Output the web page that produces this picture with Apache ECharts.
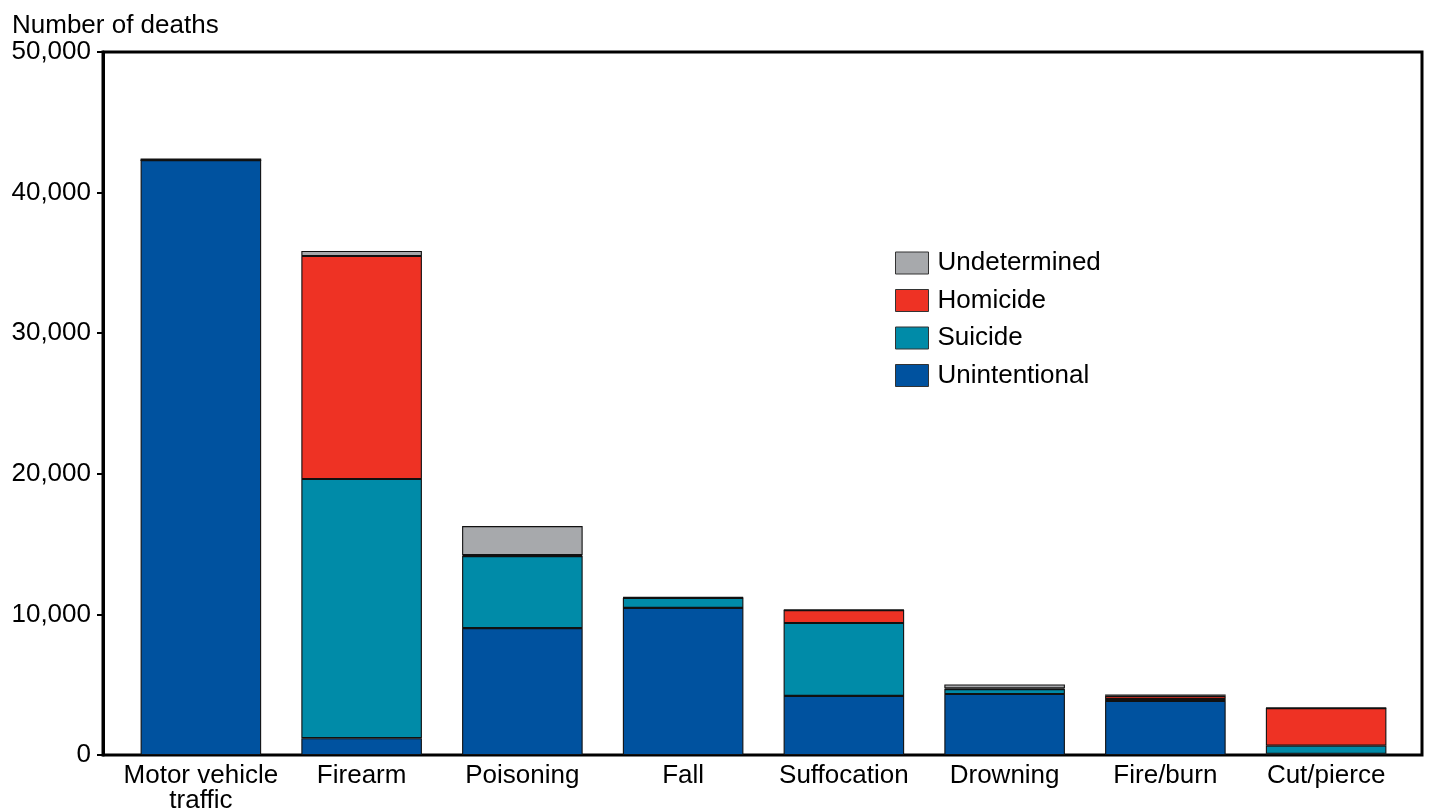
<!DOCTYPE html>
<html><head><meta charset="utf-8">
<script src="https://cdn.jsdelivr.net/npm/echarts@6/dist/echarts.min.js"></script>
<style>html,body{margin:0;padding:0;background:#fff}#c{width:1429px;height:809px}</style>
</head><body><div id="c"></div>
<script>
const categories = ['Motor vehicle\ntraffic','Firearm','Poisoning','Fall','Suffocation','Drowning','Fire/burn','Cut/pierce'];
const unintentional = [42300, 1200, 9030, 10460, 4200, 4340, 3840, 90];
const suicide       = [0, 18430, 5120, 710, 5190, 350, 150, 570];
const homicide      = [0, 15860, 60, 20, 920, 50, 220, 2680];
const undetermined  = [120, 360, 2070, 40, 30, 280, 100, 20];
const yTicks = [0, 10000, 20000, 30000, 40000, 50000];

const font = '"Liberation Sans", Arial, Helvetica, sans-serif';
const chart = echarts.init(document.getElementById('c'));
function ser(name, data, color){
  return {name, type:'bar', stack:'s', data, barWidth:'75%', xAxisIndex:1, yAxisIndex:1,
    itemStyle:{color, borderColor:'#111', borderWidth:1.1}, emphasis:{disabled:true}};
}
chart.setOption({
  animation:false,
  grid:[
    {left:103, right:7, top:52, bottom:54, show:true, borderColor:'#000', borderWidth:3, outerBoundsMode:'none', containLabel:false},
    {left:120.5, right:22.5, top:52, bottom:54, outerBoundsMode:'none', containLabel:false}
  ],
  title:{text:'Number of deaths', left:7, top:8, textStyle:{fontFamily:font, fontSize:26, fontWeight:'normal', color:'#000'}},
  legend:{left:890, top:245, orient:'vertical', itemWidth:33, itemHeight:22, itemGap:11.5,
    data:['Undetermined','Homicide','Suicide','Unintentional'],
    textStyle:{fontFamily:font, fontSize:26, color:'#000', padding:[0,0,0,4]}, icon:'rect',
    itemStyle:{borderColor:'#333', borderWidth:1}},
  xAxis:[
    {type:'value', gridIndex:0, min:0, max:1, show:false},
    {type:'category', gridIndex:1, data:categories,
      axisLine:{show:false}, axisTick:{show:false},
      axisLabel:{fontFamily:font, fontSize:26, color:'#000', margin:8, lineHeight:25, interval:0}}
  ],
  yAxis:[
    {type:'value', gridIndex:0, min:0, max:50000, interval:10000,
      axisLine:{show:true, lineStyle:{color:'#000', width:3}},
      axisTick:{show:true, length:6, lineStyle:{color:'#000', width:2}},
      splitLine:{show:false},
      axisLabel:{fontFamily:font, fontSize:26, color:'#000', margin:12,
        formatter:v => yTicks.includes(v) ? v.toLocaleString('en-US') : ''}},
    {type:'value', gridIndex:1, min:0, max:50000, interval:10000, show:false, splitLine:{show:false}}
  ],
  series:[
    ser('Unintentional', unintentional, '#00529f'),
    ser('Suicide', suicide, '#008ba8'),
    ser('Homicide', homicide, '#ee3224'),
    ser('Undetermined', undetermined, '#a7a9ac')
  ]
});
</script></body></html>
